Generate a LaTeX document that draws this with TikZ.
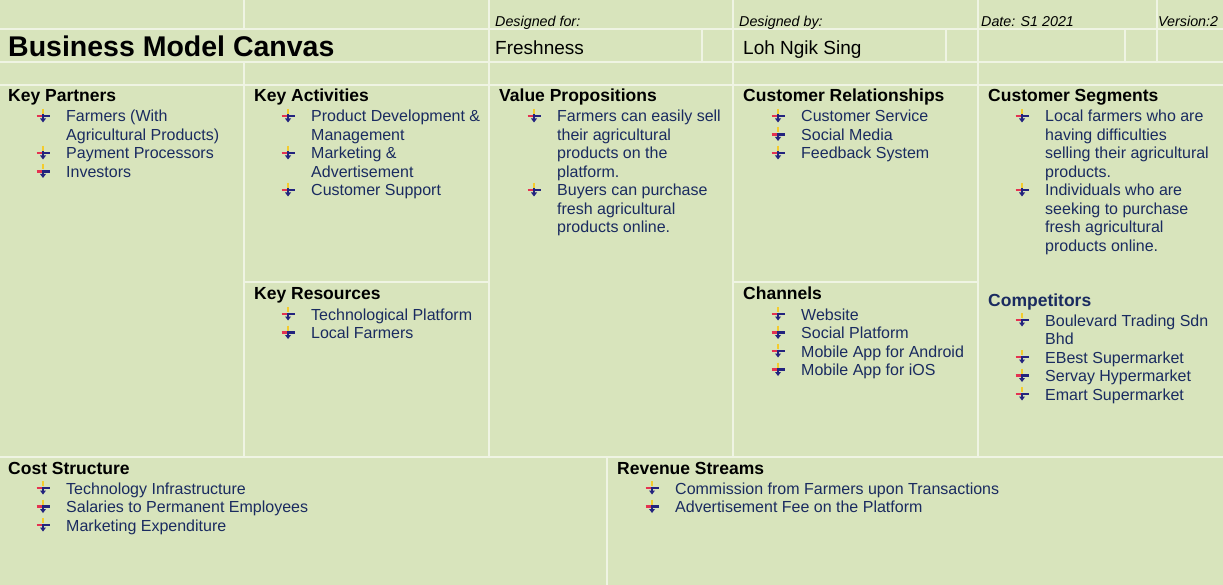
\documentclass[tikz,border=0pt]{standalone}
\usepackage{fontspec}
\setmainfont{Liberation Sans}
\definecolor{bg}{HTML}{D8E4BC}
\definecolor{gridc}{HTML}{EFF4E3}
\definecolor{navy}{HTML}{1A2B60}
\definecolor{bulnavy}{HTML}{23237E}
\definecolor{bulred}{HTML}{E43250}
\definecolor{bulyel}{HTML}{F4CC2C}
\tikzset{
  gridline/.style={draw=gridc, line width=1.2pt},
  title/.style={font=\bfseries\fontsize{28.5}{30}\selectfont, anchor=base west, inner sep=0pt, yshift=-1pt},
  hdr/.style={font=\bfseries\fontsize{17.5}{20}\selectfont, anchor=base west, inner sep=0pt, yshift=-1pt},
  comp/.style={hdr, text=navy},
  itm/.style={font=\fontsize{16}{18.5}\selectfont, text=navy, anchor=base west, inner sep=0pt, yshift=-1pt},
  meta/.style={font=\itshape\fontsize{14.3}{16}\selectfont, anchor=base west, inner sep=0pt, yshift=-1.5pt},
  val/.style={font=\fontsize{19}{21}\selectfont, anchor=base west, inner sep=0pt, yshift=-1pt},
  bul/.pic={
    \draw[line width=2.4pt, bulyel] (0,-6) -- (0,-1);
    \draw[line width=2.4pt, bulred] (-6.5,1) -- (0,1);
    \draw[line width=2.4pt, bulnavy] (0,1) -- (6.5,1);
    \draw[line width=2.4pt, bulnavy] (0,-0.5) -- (0,4);
    \fill[bulnavy] (-3,3.5) -- (3,3.5) -- (0,7.5) -- cycle;
  }
}
\newcommand\bi[4]{\pic at (#2-23,#3-6) {bul}; \node[itm] (#1) at (#2,#3) {#4};}
\newcommand\ci[4]{\node[itm] (#1) at (#2,#3) {#4};}
\begin{document}
\begin{tikzpicture}[x=1pt,y=-1pt]
\fill[bg] (0,0) rectangle (1223,585);
\useasboundingbox (0,0) rectangle (1223,585);
% grid
\draw[gridline] (0,29) -- (1223,29);
\draw[gridline] (0,62) -- (1223,62);
\draw[gridline] (0,85) -- (1223,85);
\draw[gridline] (0,457) -- (1223,457);
\draw[gridline] (244,282) -- (489,282);
\draw[gridline] (733,282) -- (978,282);
\draw[gridline] (244,0) -- (244,29);
\draw[gridline] (244,62) -- (244,457);
\draw[gridline] (489,0) -- (489,457);
\draw[gridline] (733,0) -- (733,457);
\draw[gridline] (978,0) -- (978,457);
\draw[gridline] (702,29) -- (702,62);
\draw[gridline] (946,29) -- (946,62);
\draw[gridline] (1125,29) -- (1125,62);
\draw[gridline] (1157,0) -- (1157,62);
\draw[gridline] (607,457) -- (607,585);
% header
\node[meta] (dfor) at (495,25) {Designed for:};
\node[meta] (dby) at (739,25) {Designed by:};
\node[meta] (date) at (981,25) {Date: S1 2021};
\node[meta] (ver) at (1158,25) {Version:2};
\node[title] (ttl) at (8,56) {Business Model Canvas};
\node[val] (fresh) at (495,54) {Freshness};
\node[val] (loh) at (743,54) {Loh Ngik Sing};
% Key Partners
\node[hdr] (kp) at (8,101) {Key Partners};
\bi{kp1}{66}{121}{Farmers (With}
\ci{kp1b}{66}{139.5}{Agricultural Products)}
\bi{kp2}{66}{158}{Payment Processors}
\bi{kp3}{66}{176.5}{Investors}
% Key Activities
\node[hdr] (ka) at (254,101) {Key Activities};
\bi{ka1}{311}{121}{Product Development \&}
\ci{ka1b}{311}{139.5}{Management}
\bi{ka2}{311}{158}{Marketing \&}
\ci{ka2b}{311}{176.5}{Advertisement}
\bi{ka3}{311}{195}{Customer Support}
% Key Resources
\node[hdr] (kr) at (254,298) {Key Resources};
\bi{kr1}{311}{319}{Technological Platform}
\bi{kr2}{311}{337.5}{Local Farmers}
% Value Propositions
\node[hdr] (vp) at (499,101) {Value Propositions};
\bi{vp1}{557}{121}{Farmers can easily sell}
\ci{vp1b}{557}{139.5}{their agricultural}
\ci{vp1c}{557}{158}{products on the}
\ci{vp1d}{557}{176.5}{platform.}
\bi{vp2}{557}{195}{Buyers can purchase}
\ci{vp2b}{557}{213.5}{fresh agricultural}
\ci{vp2c}{557}{232}{products online.}
% Customer Relationships
\node[hdr] (cr) at (743,101) {Customer Relationships};
\bi{cr1}{801}{121}{Customer Service}
\bi{cr2}{801}{139.5}{Social Media}
\bi{cr3}{801}{158}{Feedback System}
% Channels
\node[hdr] (ch) at (743,298) {Channels};
\bi{ch1}{801}{319}{Website}
\bi{ch2}{801}{337.5}{Social Platform}
\bi{ch3}{801}{356}{Mobile App for Android}
\bi{ch4}{801}{374.5}{Mobile App for iOS}
% Customer Segments
\node[hdr] (cs) at (988,101) {Customer Segments};
\bi{cs1}{1045}{121}{Local farmers who are}
\ci{cs1b}{1045}{139.5}{having difficulties}
\ci{cs1c}{1045}{158}{selling their agricultural}
\ci{cs1d}{1045}{176.5}{products.}
\bi{cs2}{1045}{195}{Individuals who are}
\ci{cs2b}{1045}{213.5}{seeking to purchase}
\ci{cs2c}{1045}{232}{fresh agricultural}
\ci{cs2d}{1045}{250.5}{products online.}
% Competitors
\node[comp] (co) at (988,305) {Competitors};
\bi{co1}{1045}{325}{Boulevard Trading Sdn}
\ci{co1b}{1045}{343.5}{Bhd}
\bi{co2}{1045}{362}{EBest Supermarket}
\bi{co3}{1045}{380.5}{Servay Hypermarket}
\bi{co4}{1045}{399}{Emart Supermarket}
% Cost Structure
\node[hdr] (cst) at (8,473) {Cost Structure};
\bi{cst1}{66}{493}{Technology Infrastructure}
\bi{cst2}{66}{511.5}{Salaries to Permanent Employees}
\bi{cst3}{66}{530}{Marketing Expenditure}
% Revenue Streams
\node[hdr] (rs) at (617,473) {Revenue Streams};
\bi{rs1}{675}{493}{Commission from Farmers upon Transactions}
\bi{rs2}{675}{511.5}{Advertisement Fee on the Platform}
\end{tikzpicture}
\end{document}
